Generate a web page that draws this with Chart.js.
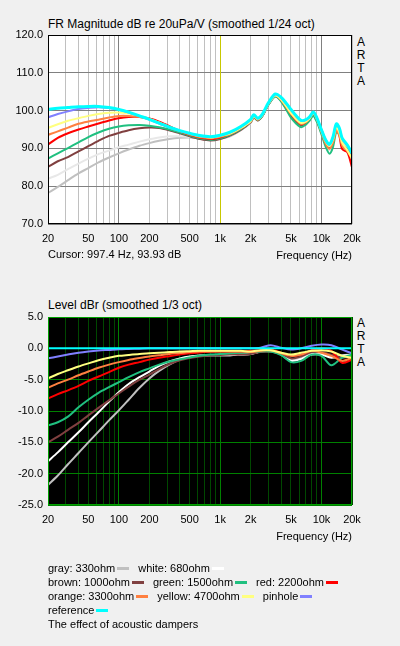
<!DOCTYPE html>
<html>
<head>
<meta charset="utf-8">
<script src="https://cdn.jsdelivr.net/npm/chart.js@4.4.1/dist/chart.umd.min.js"></script>
<style>
  body { margin:0; width:400px; height:646px; overflow:hidden; position:relative; background:#f0f0f0;
         font-family:'Liberation Sans', Arial, sans-serif; color:#000; }
  canvas { position:absolute; left:0; }
  .t { position:absolute; white-space:nowrap; }
  .title { font-size:12px; line-height:14px; left:48px; }
  .small { font-size:11px; line-height:13px; }
  .arta { font-size:12px; line-height:13px; left:356px; width:10px; text-align:center; }
  #legend { position:absolute; left:48px; top:561px; font-size:11px; line-height:14px; }
  #legend .sw { display:inline-block; width:12px; height:3px; margin:0 9px 0 2px; vertical-align:2px; }
</style>
</head>
<body>
<div class="t title" style="top:17px">FR Magnitude dB re 20uPa/V (smoothed 1/24 oct)</div>
<div class="t arta" style="top:36px">A<br>R<br>T<br>A</div>
<canvas id="fr" width="400" height="262" style="top:0"></canvas>
<div class="t small" style="left:48px;top:248px">Cursor: 997.4 Hz, 93.93 dB</div>
<div class="t small" style="right:48px;top:249px">Frequency (Hz)</div>

<div class="t title" style="top:298px">Level dBr (smoothed 1/3 oct)</div>
<div class="t arta" style="top:317px">A<br>R<br>T<br>A</div>
<canvas id="lvl" width="400" height="260" style="top:290px"></canvas>
<div class="t small" style="right:48px;top:530px">Frequency (Hz)</div>

<div id="legend"></div>

<script>
// series names and colours
const names = ['gray: 330ohm', 'white: 680ohm', 'brown: 1000ohm', 'green: 1500ohm', 'red: 2200ohm',
               'orange: 3300ohm', 'yellow: 4700ohm', 'pinhole', 'reference'];
const colorsTop = ['#c0c0c0', '#e8e8e8', '#804040', '#20c080', '#ff0000', '#ff8040', '#ffff80', '#8080ff', '#00ffff'];
const colorsBottom = ['#c0c0c0', '#ffffff', '#804040', '#20c080', '#ff0000', '#ff8040', '#ffff80', '#8080ff', '#00ffff'];
const legendRows = [[0, 1], [2, 3, 4], [5, 6, 7], [8]];
const legendNote = 'The effect of acoustic dampers';

// x axis: grid lines and labels
const xGrid = [20,30,40,50,60,70,80,90,100,200,300,400,500,600,700,800,900,
               1000,2000,3000,4000,5000,6000,7000,8000,9000,10000,20000];
const xMajor = [100, 1000, 10000];
const xLabels = {20:'20', 50:'50', 100:'100', 200:'200', 500:'500', 1000:'1k', 2000:'2k', 5000:'5k', 10000:'10k', 20000:'20k'};
const cursorHz = 997.4;

// top chart: FR magnitude, dB
const freqTop = [20,25,31.5,40,50,63,80,100,125,160,200,250,315,400,500,630,800,1000,
                 1250,1600,2000,2150,2350,2600,3000,3500,4000,4500,5000,5600,6300,7000,7600,8300,9000,
                 10000,11000,12000,13000,14000,15000,16000,18000,20000];
const grayTop = [78.2,79.8,81.6,83.4,84.8,86.3,87.6,88.7,89.7,90.7,91.4,92.0,92.5,92.8,92.9,92.6,92.2,92.6,
                 93.2,94.8,96.8,98.1,97.4,98.5,101.6,103.8,102.6,100.5,98.5,97.0,95.9,96.5,97.4,98.8,97.3,
                 94.0,91.1,89.8,91.7,95.2,94.2,91.6,89.9,87.8];
const whiteTop = [82.0,83.0,84.5,86.0,87.3,88.5,89.4,90.3,91.0,91.8,92.4,92.9,93.2,93.2,93.0,92.6,92.2,92.6,
                  93.3,94.8,96.8,98.1,97.4,98.5,101.7,103.8,102.5,100.4,98.3,96.8,95.8,96.4,97.3,98.6,97.1,
                  93.9,91.0,89.6,91.6,95.2,94.2,91.5,89.9,87.8];
const brownTop = [85.1,86.6,87.7,89.2,90.6,92.0,93.3,94.1,94.8,95.3,95.5,95.4,94.8,94.0,93.2,92.5,92.1,92.5,
                  93.4,94.9,96.9,98.2,97.4,98.5,101.6,103.8,102.6,100.6,98.7,97.2,96.1,96.7,97.6,99.0,97.5,
                  94.3,91.4,90.1,91.9,95.1,93.9,91.2,89.6,87.6];
const greenTop = [87.3,88.7,90.1,91.6,93.0,94.2,95.2,95.8,96.1,96.2,96.0,95.6,95.0,94.2,93.4,92.7,92.3,92.7,
                  93.6,95.1,97.1,98.3,97.5,98.5,101.6,103.7,102.4,100.2,98.1,96.6,95.6,96.3,97.3,98.6,97.0,
                  93.7,90.4,88.6,90.4,94.3,93.6,91.2,89.7,87.8];
const redTop = [91.0,92.8,94.0,95.0,95.8,96.6,97.4,98.0,98.3,98.3,97.9,97.1,95.9,94.6,93.6,92.9,92.5,92.9,
                93.9,95.4,97.3,98.5,97.7,98.8,101.9,104.1,102.9,101.0,99.1,97.6,96.4,97.0,98.0,99.3,97.9,
                94.9,92.2,90.9,92.7,96.0,93.5,89.8,89.0,85.0];
const orangeTop = [93.6,94.5,95.5,96.5,97.1,97.6,98.2,98.6,98.6,98.3,97.7,96.7,95.5,94.5,93.7,93.0,92.7,93.1,
                   93.8,95.3,97.1,98.4,97.6,98.7,101.8,104.0,102.8,100.9,99.1,97.6,96.4,96.9,97.8,99.2,97.6,
                   94.2,91.2,89.9,91.6,94.7,93.4,90.7,89.2,87.3];
const yellowTop = [95.4,96.4,97.3,98.0,98.6,99.1,99.4,99.5,99.2,98.6,97.8,96.9,95.7,94.7,93.9,93.2,92.9,93.3,
                   93.9,95.4,97.2,98.5,97.7,98.7,101.8,104.0,102.9,101.1,99.3,97.8,96.7,97.1,97.9,99.2,97.8,
                   94.6,91.8,90.6,92.4,95.5,94.2,91.5,89.5,87.3];
const pinholeTop = [98.2,99.1,99.8,100.4,100.7,100.9,100.7,100.2,99.5,98.5,97.6,96.6,95.5,94.6,93.9,93.3,93.0,93.4,
                    94.2,95.7,97.6,98.8,97.9,98.9,102.0,104.3,103.4,101.8,100.2,98.6,97.3,97.5,98.2,99.5,98.0,
                    94.8,92.1,91.0,93.0,96.4,95.3,92.6,90.7,88.5];
const referenceTop = [100.3,100.6,100.8,101.0,101.1,101.1,100.8,100.3,99.6,98.6,97.7,96.7,95.6,94.7,94.0,93.4,93.1,93.5,
                      94.3,95.8,97.7,98.9,98.0,99.0,102.1,104.4,103.5,101.9,100.3,98.7,97.4,97.6,98.3,99.6,98.1,
                      94.9,92.2,91.1,93.1,96.5,95.4,92.7,90.9,88.8];

// bottom chart: level relative to reference, dBr
const freqBottom = [20,25,31.5,40,50,63,80,100,125,160,200,250,315,400,500,630,800,1000,
                    1250,1600,2000,2500,3150,4000,5000,6300,8000,10000,12500,16000,20000];
const grayBottom = [-21.8,-20.3,-18.5,-16.7,-15.0,-13.3,-11.5,-9.9,-8.2,-6.3,-4.8,-3.6,-2.6,-1.8,-1.4,-1.2,-1.1,-1.1,
                    -1.1,-1.0,-0.9,-0.5,-0.5,-0.9,-1.8,-1.5,-0.8,-0.9,-1.3,-1.1,-1.0];
const whiteBottom = [-18.0,-16.6,-15.0,-13.4,-11.8,-10.2,-8.5,-7.0,-5.7,-4.6,-3.7,-2.8,-2.1,-1.6,-1.3,-1.15,-1.1,-1.1,
                     -1.1,-1.0,-0.9,-0.5,-0.4,-1.0,-2.0,-1.7,-1.0,-1.0,-1.5,-1.2,-1.0];
const brownBottom = [-15.0,-14.1,-13.0,-11.9,-10.7,-9.5,-8.3,-7.2,-6.1,-5.0,-4.2,-3.3,-2.5,-1.9,-1.55,-1.3,-1.15,-1.05,
                     -1.0,-1.0,-0.9,-0.6,-0.5,-0.9,-1.6,-1.3,-0.6,-0.6,-1.0,-1.5,-1.2];
const greenBottom = [-12.3,-11.8,-10.9,-9.4,-8.2,-7.1,-6.2,-5.4,-4.6,-3.8,-3.2,-2.6,-2.1,-1.75,-1.45,-1.2,-1.0,-0.9,
                     -0.8,-0.7,-0.6,-0.5,-0.5,-1.1,-2.2,-2.0,-1.0,-1.2,-2.7,-1.5,-1.0];
const redBottom = [-8.0,-7.3,-6.7,-6.0,-5.2,-4.5,-3.8,-3.1,-2.6,-2.2,-1.8,-1.5,-1.25,-1.0,-0.8,-0.65,-0.55,-0.5,
                   -0.5,-0.5,-0.4,-0.3,-0.2,-0.7,-1.2,-1.0,-0.3,0,-0.4,-2.3,-1.8];
const orangeBottom = [-6.3,-5.6,-5.0,-4.3,-3.7,-3.1,-2.6,-2.2,-1.85,-1.55,-1.3,-1.1,-0.9,-0.75,-0.6,-0.5,-0.5,-0.5,
                      -0.5,-0.5,-0.6,-0.4,-0.3,-0.8,-1.2,-1.0,-0.4,-0.7,-1.2,-2.0,-1.5];
const yellowBottom = [-4.8,-4.1,-3.5,-2.9,-2.4,-1.9,-1.5,-1.2,-1.05,-0.9,-0.8,-0.7,-0.6,-0.5,-0.45,-0.4,-0.4,-0.4,
                      -0.4,-0.4,-0.5,-0.3,-0.3,-0.7,-1.0,-0.7,-0.4,-0.3,-0.5,-1.2,-1.5];
const pinholeBottom = [-1.6,-1.3,-1.0,-0.7,-0.5,-0.35,-0.25,-0.15,-0.1,-0.05,0,0,0,0,0,0,0,0,
                       0,0,0,0.1,0.5,0.1,-0.2,0,0.4,0.6,0.5,-0.2,-0.8];
const referenceBottom = [0,0,0,0,0,0,0,0,0,0,0,0,0,0,0,0,0,0,
                         0,0,0,0,0,0,0,0,0,0,0,0,0];

const topSeries = [grayTop, whiteTop, brownTop, greenTop, redTop, orangeTop, yellowTop, pinholeTop, referenceTop];
const bottomSeries = [grayBottom, whiteBottom, brownBottom, greenBottom, redBottom, orangeBottom, yellowBottom, pinholeBottom, referenceBottom];

const FONT = { family: "'Liberation Sans', Arial, sans-serif", size: 11 };

// plot background, optional cursor line, frame round the plot
const framePlugin = {
  id: 'frame',
  beforeDraw(chart, args, o) {
    const a = chart.chartArea, ctx = chart.ctx;
    ctx.save();
    ctx.fillStyle = o.bg;
    ctx.fillRect(a.left, a.top, a.right - a.left, a.bottom - a.top);
    ctx.restore();
  },
  beforeDatasetsDraw(chart, args, o) {
    if (!o.cursor) return;
    const a = chart.chartArea, ctx = chart.ctx;
    const x = Math.round(chart.scales.x.getPixelForValue(o.cursor)) + 0.5;
    ctx.save();
    ctx.strokeStyle = o.cursorColor;
    ctx.lineWidth = 1;
    ctx.beginPath(); ctx.moveTo(x, a.top); ctx.lineTo(x, a.bottom); ctx.stroke();
    ctx.restore();
  },
  afterDraw(chart, args, o) {
    const a = chart.chartArea, ctx = chart.ctx;
    ctx.save();
    ctx.strokeStyle = o.color;
    ctx.lineWidth = o.width;
    ctx.strokeRect(a.left + 0.5, a.top + 0.5, a.right - a.left - 1, a.bottom - a.top - 1);
    ctx.restore();
  }
};

function makeChart(id, freqs, series, colors, opt) {
  // reference last in the list, first in drawing order (on top)
  const datasets = series.map((vals, i) => ({
    label: names[i],
    data: freqs.map((f, k) => ({ x: f, y: vals[k] })),
    borderColor: colors[i],
    borderWidth: i === series.length - 1 ? opt.refWidth : opt.lineWidth,
    pointRadius: 0,
    tension: 0.3,
    order: series.length - i
  }));
  return new Chart(document.getElementById(id), {
    type: 'line',
    data: { datasets },
    plugins: [framePlugin],
    options: {
      responsive: false,
      animation: false,
      layout: { padding: { top: opt.padTop, right: 48, left: 0, bottom: 0 } },
      plugins: {
        legend: { display: false },
        tooltip: { enabled: false },
        frame: opt.frame
      },
      scales: {
        x: {
          type: 'logarithmic',
          min: 20, max: 20000,
          afterBuildTicks: s => { s.ticks = xGrid.map(v => ({ value: v })); },
          afterFit: s => { s.height = opt.xHeight; },
          ticks: {
            autoSkip: false, maxRotation: 0, minRotation: 0,
            color: '#000', font: FONT, padding: 8,
            callback: v => xLabels[v] || ''
          },
          grid: {
            drawTicks: false,
            color: c => xMajor.includes(c.tick && c.tick.value) ? opt.majorGrid : opt.minorGrid
          },
          border: { display: false }
        },
        y: {
          min: opt.yMin, max: opt.yMax,
          afterFit: s => { s.width = 48; },
          ticks: {
            stepSize: opt.yStep, color: '#000', font: FONT, padding: 5,
            callback: v => Number(v).toFixed(1)
          },
          grid: { drawTicks: false, color: opt.hGrid },
          border: { display: false }
        }
      }
    }
  });
}

makeChart('fr', freqTop, topSeries, colorsTop, {
  padTop: 35, xHeight: 38, yMin: 70, yMax: 120, yStep: 10,
  lineWidth: 2, refWidth: 3,
  majorGrid: '#808080', minorGrid: '#c0c0c0', hGrid: '#808080',
  frame: { bg: '#ffffff', color: '#000000', width: 1, cursor: cursorHz, cursorColor: '#c8c800' }
});

makeChart('lvl', freqBottom, bottomSeries, colorsBottom, {
  padTop: 27, xHeight: 45, yMin: -25, yMax: 5, yStep: 5,
  lineWidth: 2, refWidth: 2,
  majorGrid: '#008000', minorGrid: '#004800', hGrid: '#008000',
  frame: { bg: '#000000', color: '#00a000', width: 1 }
});

// legend text under the charts
const legend = document.getElementById('legend');
legendRows.forEach(row => {
  const line = document.createElement('div');
  row.forEach(i => {
    line.appendChild(document.createTextNode(names[i]));
    const sw = document.createElement('span');
    sw.className = 'sw';
    sw.style.background = colorsBottom[i];
    line.appendChild(sw);
  });
  legend.appendChild(line);
});
const note = document.createElement('div');
note.textContent = legendNote;
legend.appendChild(note);
</script>
</body>
</html>
